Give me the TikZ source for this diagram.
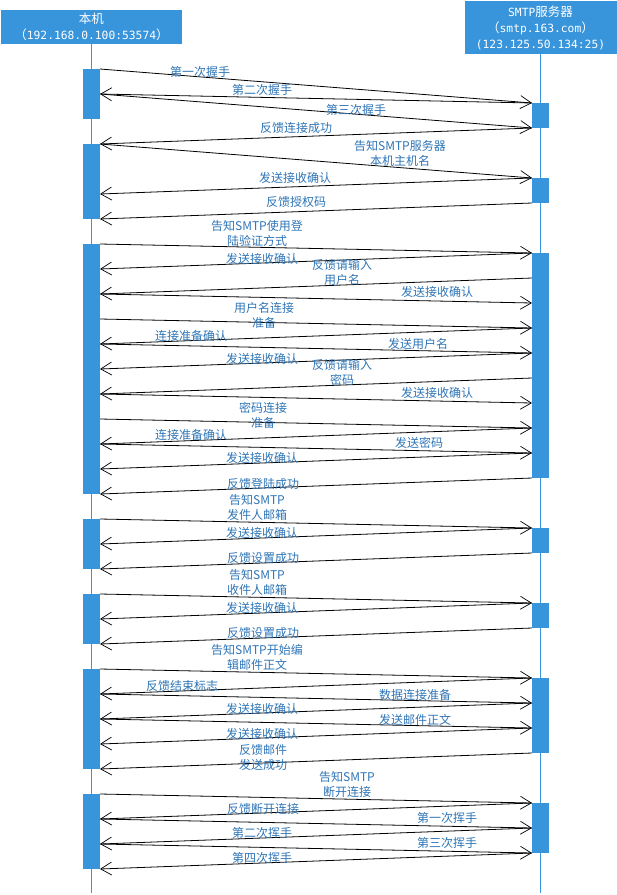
\documentclass[tikz,border=0pt]{standalone}
\usepackage{fontspec}
\setmainfont{Noto Sans CJK SC}
\newfontfamily\hdrmono{DejaVu Sans Mono}
\usetikzlibrary{arrows.meta}
\definecolor{barblue}{RGB}{56,148,219}
\definecolor{txtblue}{RGB}{46,117,182}
\newcommand{\num}[1]{{\hdrmono\fontsize{11.3}{15}\selectfont #1}}
\begin{document}
\begin{tikzpicture}[x=1pt,y=-1pt,
  every node/.style={font=\fontsize{12}{15}\selectfont},
  hdr/.style={fill=barblue,text=white,inner sep=0pt,align=center,font=\fontsize{12.5}{16}\selectfont},
  life/.style={barblue,line width=0.8pt},
  msg/.style={line width=0.8pt,-{Straight Barb[length=11pt,width=13pt,line width=0.7pt]}},
  lbl/.style={text=txtblue,inner sep=0pt,align=center}]
\useasboundingbox (0,0) rectangle (617,895);
% the two parties
\node[hdr,minimum width=181pt,minimum height=34pt] (host) at (91.5,27) {本机\\（\num{192.168.0.100:53574}）};
\node[hdr,minimum width=152pt,minimum height=53pt] (smtp) at (540.5,27.5) {\num{SMTP}服务器\\（\num{smtp.163.com}）\\\num{(123.125.50.134:25)}};
\coordinate (hostend) at (91.5,893);
\coordinate (smtpend) at (540.5,893);
\draw[life] (host) -- (hostend);
\draw[life] (smtp) -- (smtpend);
% activation bars
\foreach \a/\b in {69/119,144/219,244/494,519/569,594/644,669/769,794/869}
  \fill[barblue] (83,\a) rectangle (100,\b);
\foreach \a/\b in {103/128,178/203,253/478,528/553,603/628,678/753,803/853}
  \fill[barblue] (532,\a) rectangle (549,\b);
% message ends
\foreach \y in {69,94,144,194,219,244,269,294,319,344,369,394,419,444,469,494,519,544,569,594,619,644,669,694,719,744,769,794,819,844,869}
  \coordinate (L\y) at (100,\y);
\foreach \y in {103,128,178,203,253,278,303,328,353,378,403,428,453,478,528,553,603,628,678,703,728,753,803,828,853}
  \coordinate (R\y) at (532,\y);
% handshake
\draw[msg] (L69) -- (R103);
\draw[msg] (R103) -- (L94);
\draw[msg] (L94) -- (R128);
\draw[msg] (R128) -- (L144);
\node[lbl] (m1) at (200,72) {第一次握手};
\node[lbl] (m2) at (262,90) {第二次握手};
\node[lbl] (m3) at (356,110) {第三次握手};
\node[lbl] (m4) at (296,128) {反馈连接成功};
% helo
\draw[msg] (L144) -- (R178);
\draw[msg] (R178) -- (L194);
\draw[msg] (R203) -- (L219);
\node[lbl] (m5) at (400,153.5) {告知SMTP服务器\\本机主机名};
\node[lbl] (m6) at (295,178) {发送接收确认};
\node[lbl] (m7) at (296,202) {反馈授权码};
% login
\draw[msg] (L244) -- (R253);
\draw[msg] (R253) -- (L269);
\draw[msg] (R278) -- (L294);
\draw[msg] (L294) -- (R303);
\draw[msg] (L319) -- (R328);
\draw[msg] (R328) -- (L344);
\draw[msg] (L344) -- (R353);
\draw[msg] (R353) -- (L369);
\draw[msg] (R378) -- (L394);
\draw[msg] (L394) -- (R403);
\draw[msg] (L419) -- (R428);
\draw[msg] (R428) -- (L444);
\draw[msg] (L444) -- (R453);
\draw[msg] (R453) -- (L469);
\draw[msg] (R478) -- (L494);
\node[lbl] (m8) at (257,233) {告知SMTP使用登\\陆验证方式};
\node[lbl] (m9) at (262,259) {发送接收确认};
\node[lbl] (m10) at (342,272.5) {反馈请输入\\用户名};
\node[lbl] (m11) at (437,292) {发送接收确认};
\node[lbl] (m12) at (264,315.5) {用户名连接\\准备};
\node[lbl] (m13) at (191,336) {连接准备确认};
\node[lbl] (m14) at (418,344) {发送用户名};
\node[lbl] (m15) at (262,359) {发送接收确认};
\node[lbl] (m16) at (342,372.5) {反馈请输入\\密码};
\node[lbl] (m17) at (437,393) {发送接收确认};
\node[lbl] (m18) at (263,415.5) {密码连接\\准备};
\node[lbl] (m19) at (191,435) {连接准备确认};
\node[lbl] (m20) at (419,443) {发送密码};
\node[lbl] (m21) at (262,458) {发送接收确认};
\node[lbl] (m22) at (263,484) {反馈登陆成功};
% sender / receiver
\draw[msg] (L519) -- (R528);
\draw[msg] (R528) -- (L544);
\draw[msg] (R553) -- (L569);
\draw[msg] (L594) -- (R603);
\draw[msg] (R603) -- (L619);
\draw[msg] (R628) -- (L644);
\node[lbl] (m23) at (257,507.5) {告知SMTP\\发件人邮箱};
\node[lbl] (m24) at (262,533) {发送接收确认};
\node[lbl] (m25) at (263,558) {反馈设置成功};
\node[lbl] (m26) at (257,582.5) {告知SMTP\\收件人邮箱};
\node[lbl] (m27) at (262,608) {发送接收确认};
\node[lbl] (m28) at (263,633) {反馈设置成功};
% mail body
\draw[msg] (L669) -- (R678);
\draw[msg] (R678) -- (L694);
\draw[msg] (L694) -- (R703);
\draw[msg] (R703) -- (L719);
\draw[msg] (L719) -- (R728);
\draw[msg] (R728) -- (L744);
\draw[msg] (R753) -- (L769);
\node[lbl] (m29) at (257,657.5) {告知SMTP开始编\\辑邮件正文};
\node[lbl] (m30) at (182,686) {反馈结束标志};
\node[lbl] (m31) at (415,695) {数据连接准备};
\node[lbl] (m32) at (262,709) {发送接收确认};
\node[lbl] (m33) at (415,720) {发送邮件正文};
\node[lbl] (m34) at (262,734) {发送接收确认};
\node[lbl] (m35) at (263,757) {反馈邮件\\发送成功};
% quit
\draw[msg] (L794) -- (R803);
\draw[msg] (R803) -- (L819);
\draw[msg] (L819) -- (R828);
\draw[msg] (R828) -- (L844);
\draw[msg] (L844) -- (R853);
\draw[msg] (R853) -- (L869);
\node[lbl] (m36) at (347,784.5) {告知SMTP\\断开连接};
\node[lbl] (m37) at (263,809) {反馈断开连接};
\node[lbl] (m38) at (447,818) {第一次挥手};
\node[lbl] (m39) at (262,833) {第二次挥手};
\node[lbl] (m40) at (447,843) {第三次挥手};
\node[lbl] (m41) at (262,858) {第四次挥手};
\end{tikzpicture}
\end{document}
